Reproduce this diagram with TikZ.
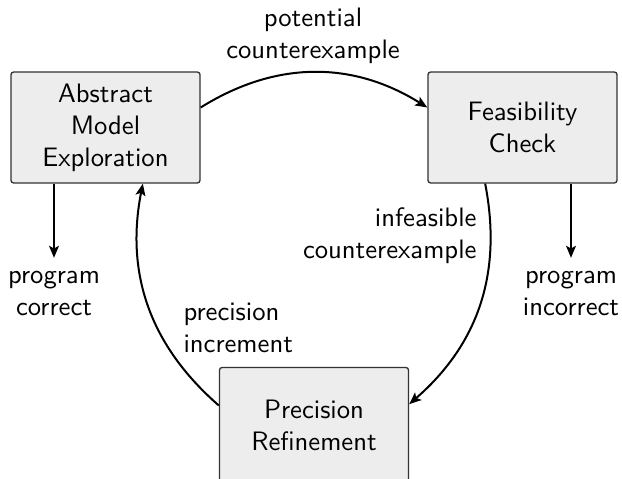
\documentclass[tikz,border=0pt]{standalone}
\usetikzlibrary{arrows.meta}
\begin{document}
\begin{tikzpicture}[x=0.375pt,y=0.375pt,
  font=\sffamily,
  stage/.style={draw=black!80, line width=0.5pt, fill=black!7, rounded corners=1pt,
    minimum width=70.9pt, minimum height=41.6pt, align=center, inner sep=0pt},
  lbl/.style={inner sep=0pt},
  arr/.style={line width=0.75pt, -{Stealth[length=4.5pt,width=3.7pt,inset=1pt]}}]
  \useasboundingbox (0,0) rectangle (622,-479);
  \clip (0,0) rectangle (622,-479);

  % the three stages of the loop
  \node[stage] (abs)  at (105.5,-127.5) {Abstract\\Model\\Exploration};
  \node[stage] (feas) at (522.5,-127.5) {Feasibility\\Check};
  \node[stage, minimum height=43.5pt] (prec) at (314,-425.5) {Precision\\Refinement};

  % edge labels and outcomes
  \node[lbl, align=center]            (pot)  at (313,-36)  {potential\\counterexample};
  \node[lbl, align=right, anchor=east] (inf) at (477,-236) {infeasible\\counterexample};
  \node[lbl, align=left, anchor=west]  (inc) at (183,-328) {precision\\increment};
  \node[lbl, align=center]            (ok)   at (54,-294)  {program\\correct};
  \node[lbl, align=center]            (bad)  at (571,-294) {program\\incorrect};

  % refinement cycle
  \draw[arr] ([yshift=7.5pt]abs.east) to[bend left=32] ([yshift=7.5pt]feas.west);
  \draw[arr] ([xshift=-14pt]feas.south) to[bend left=30] ([yshift=8pt]prec.east);
  \draw[arr] ([yshift=7.5pt]prec.west) to[bend left=30] ([xshift=14pt]abs.south);

  % exits of the loop
  \draw[arr, shorten >=5pt] (ok.north |- abs.south) -- (ok.north);
  \draw[arr, shorten >=5pt] (bad.north |- feas.south) -- (bad.north);
\end{tikzpicture}
\end{document}
